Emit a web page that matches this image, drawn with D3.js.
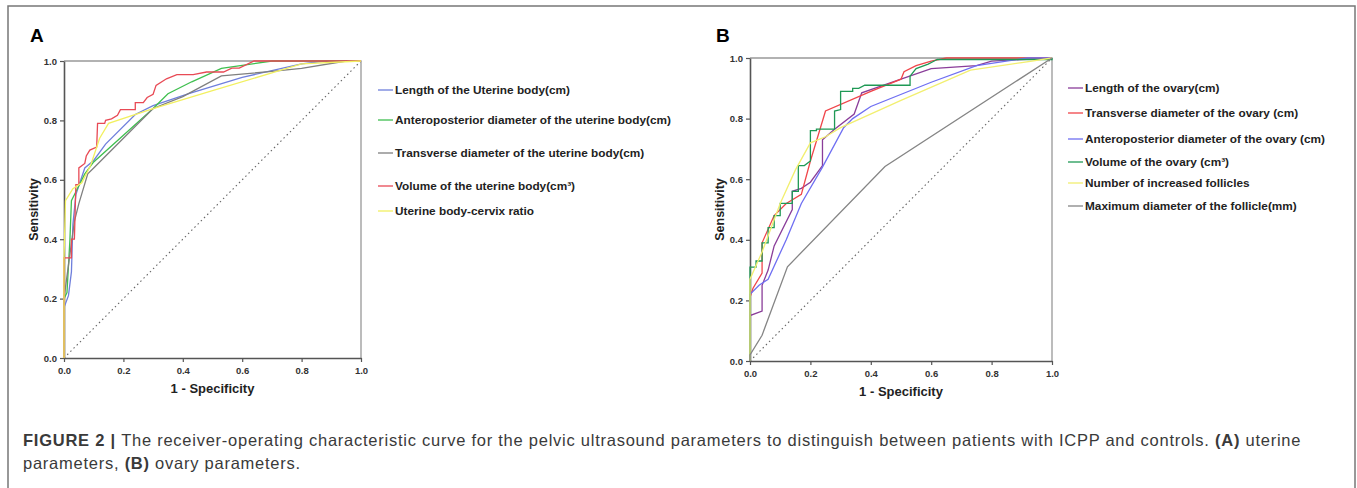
<!DOCTYPE html>
<html>
<head>
<meta charset="utf-8">
<script src="https://cdn.jsdelivr.net/npm/d3@7"></script>
<style>
  body { margin: 0; background: #fff; }
  svg { display: block; }
</style>
</head>
<body>
<div id="fig"></div>
<script>
// ROC curve points [1 - specificity, sensitivity]
const tickValues = [0, 0.2, 0.4, 0.6, 0.8, 1.0]

// panel A: uterine parameters
const uterLength = [[0,0],[0,0.17],[0.015,0.21],[0.025,0.29],[0.03,0.45],[0.04,0.55],[0.07,0.64],[0.1,0.665],[0.14,0.72],[0.24,0.82],[0.3,0.85],[0.42,0.89],[0.6,0.945],[0.8,0.99],[0.88,1.0],[1,1]]
const uterAP = [[0,0],[0,0.2],[0.01,0.22],[0.02,0.4],[0.025,0.53],[0.04,0.56],[0.07,0.62],[0.1,0.66],[0.2,0.75],[0.3,0.84],[0.35,0.89],[0.43,0.93],[0.53,0.975],[0.6,0.985],[0.7,1.0],[1,1]]
const uterTrans = [[0,0],[0,0.2],[0.02,0.35],[0.035,0.46],[0.05,0.52],[0.08,0.62],[0.1,0.64],[0.2,0.74],[0.3,0.84],[0.4,0.88],[0.53,0.95],[0.7,0.965],[0.8,0.975],[0.95,1.0],[1,1]]
const uterVolume = [[0,0],[0,0.337],[0.025,0.337],[0.025,0.40],[0.035,0.40],[0.04,0.584],[0.05,0.584],[0.05,0.64],[0.07,0.655],[0.075,0.68],[0.087,0.70],[0.11,0.71],[0.113,0.79],[0.137,0.79],[0.14,0.80],[0.16,0.805],[0.18,0.817],[0.19,0.836],[0.24,0.836],[0.24,0.86],[0.267,0.86],[0.28,0.877],[0.3,0.888],[0.31,0.918],[0.345,0.94],[0.38,0.954],[0.435,0.954],[0.48,0.963],[0.537,0.963],[0.565,0.976],[0.59,0.976],[0.64,1.0],[1,1]]
const uterRatio = [[0,0],[0,0.33],[0.005,0.53],[0.03,0.57],[0.06,0.59],[0.09,0.65],[0.12,0.74],[0.15,0.79],[0.3,0.84],[0.5,0.9],[0.7,0.96],[0.8,0.99],[1,1]]

// panel B: ovary parameters
const ovLength = [[0,0],[0,0.15],[0.04,0.165],[0.04,0.25],[0.06,0.3],[0.08,0.38],[0.14,0.5],[0.14,0.56],[0.17,0.57],[0.2,0.59],[0.24,0.645],[0.24,0.73],[0.28,0.765],[0.345,0.815],[0.37,0.885],[0.5,0.93],[0.6,0.965],[0.75,0.975],[0.8,0.99],[1,1]]
const ovTrans = [[0,0],[0,0.21],[0.01,0.24],[0.04,0.29],[0.04,0.39],[0.08,0.48],[0.12,0.52],[0.17,0.55],[0.2,0.66],[0.25,0.825],[0.4,0.89],[0.5,0.93],[0.51,0.955],[0.55,0.975],[0.6,0.99],[0.65,1.0],[1,1]]
const ovAP = [[0,0],[0,0.22],[0.03,0.25],[0.06,0.27],[0.12,0.4],[0.17,0.52],[0.24,0.64],[0.31,0.77],[0.34,0.8],[0.4,0.84],[0.6,0.92],[0.75,0.975],[0.92,1.0],[1,1]]
const ovVolume = [[0,0],[0,0.31],[0.02,0.31],[0.02,0.33],[0.04,0.33],[0.04,0.39],[0.06,0.39],[0.06,0.44],[0.08,0.44],[0.08,0.48],[0.1,0.48],[0.1,0.52],[0.14,0.52],[0.14,0.56],[0.16,0.56],[0.16,0.645],[0.18,0.645],[0.2,0.66],[0.2,0.76],[0.22,0.76],[0.22,0.765],[0.28,0.765],[0.28,0.825],[0.3,0.83],[0.3,0.89],[0.34,0.89],[0.34,0.9],[0.36,0.9],[0.38,0.91],[0.53,0.91],[0.53,0.94],[0.55,0.965],[0.59,0.98],[0.61,0.99],[0.62,0.995],[1,0.995],[1,1]]
const ovFollicles = [[0,0],[0,0.27],[0.04,0.36],[0.1,0.52],[0.15,0.63],[0.2,0.72],[0.25,0.74],[0.3,0.77],[0.5,0.86],[0.73,0.96],[0.9,0.985],[1,1]]
const ovMaxDiam = [[0,0],[0,0.02],[0.04,0.085],[0.124,0.311],[0.447,0.642],[1,1]]

const diagonal = [[0,0],[1,1]]

const namesA = ['Length of the Uterine body(cm)', 'Anteroposterior diameter of the uterine body(cm)', 'Transverse diameter of the uterine body(cm)', 'Volume of the uterine body(cm³)', 'Uterine body-cervix ratio']
const namesB = ['Length of the ovary(cm)', 'Transverse diameter of the ovary (cm)', 'Anteroposterior diameter of the ovary (cm)', 'Volume of the ovary (cm³)', 'Number of increased follicles', 'Maximum diameter of the follicle(mm)']

const colorsA = ['#6f7fdc', '#3fbf4f', '#7f7f7f', '#e84a55', '#f2f060']
const colorsB = ['#8a3d99', '#f0454a', '#6f6ff2', '#1f9955', '#f2ef70', '#858585']

const W = 1357, H = 488
const svg = d3.select('#fig').append('svg').attr('width', W).attr('height', H)

// figure frame
svg.append('rect')
  .attr('x', 8).attr('y', 6).attr('width', 1347).attr('height', 490)
  .attr('fill', 'none').attr('stroke', '#777').attr('stroke-width', 1.5)

function drawPanel(cfg) {
  const xScale = d3.scaleLinear().domain([0, 1]).range([cfg.left, cfg.right])
  const yScale = d3.scaleLinear().domain([0, 1]).range([cfg.bottom, cfg.top])

  svg.append('text')
    .attr('x', cfg.left - 34).attr('y', 42)
    .attr('font-family', 'Liberation Sans, Arial, sans-serif')
    .attr('font-weight', 'bold').attr('font-size', 19)
    .text(cfg.letter)

  // top and right frame
  svg.append('path')
    .attr('d', 'M' + cfg.left + ',' + cfg.top + 'H' + cfg.right + 'V' + cfg.bottom)
    .attr('fill', 'none').attr('stroke', '#999').attr('stroke-width', 1.3)

  const xAxis = svg.append('g')
    .attr('transform', 'translate(0,' + cfg.bottom + ')')
    .call(d3.axisBottom(xScale).tickValues(tickValues).tickFormat(d3.format('.1f')).tickSize(4).tickSizeOuter(0))
  const yAxis = svg.append('g')
    .attr('transform', 'translate(' + cfg.left + ',0)')
    .call(d3.axisLeft(yScale).tickValues(tickValues).tickFormat(d3.format('.1f')).tickSize(4).tickSizeOuter(0))

  ;[xAxis, yAxis].forEach(function(ax) {
    ax.select('.domain').attr('stroke', '#555').attr('stroke-width', 1.6)
    ax.selectAll('.tick line').attr('stroke', '#555').attr('stroke-width', 1.2)
    ax.selectAll('.tick text')
      .attr('font-family', 'Liberation Sans, Arial, sans-serif')
      .attr('font-weight', 'bold').attr('font-size', 9.5).attr('fill', '#333')
  })
  xAxis.selectAll('.tick text').attr('dy', '0.9em')

  svg.append('text')
    .attr('x', (cfg.left + cfg.right) / 2).attr('y', cfg.bottom + 35)
    .attr('text-anchor', 'middle')
    .attr('font-family', 'Liberation Sans, Arial, sans-serif')
    .attr('font-weight', 'bold').attr('font-size', 13).attr('fill', '#222')
    .text('1 - Specificity')

  svg.append('text')
    .attr('transform', 'translate(' + (cfg.left - 26) + ',' + ((cfg.top + cfg.bottom) / 2) + ') rotate(-90)')
    .attr('text-anchor', 'middle')
    .attr('font-family', 'Liberation Sans, Arial, sans-serif')
    .attr('font-weight', 'bold').attr('font-size', 12.5).attr('fill', '#222')
    .text('Sensitivity')

  const line = d3.line()
    .x(function(d) { return xScale(d[0]) })
    .y(function(d) { return yScale(d[1]) })

  svg.append('path')
    .attr('d', line(diagonal))
    .attr('fill', 'none').attr('stroke', '#666').attr('stroke-width', 1.1)
    .attr('stroke-dasharray', '1.5,3')

  svg.append('g')
    .selectAll('path')
    .data(cfg.series)
    .enter()
    .append('path')
    .attr('d', function(d) { return line(d) })
    .attr('fill', 'none')
    .attr('stroke', function(d, i) { return cfg.colors[i] })
    .attr('stroke-width', 1.3)

  // legend
  const leg = svg.append('g')
  cfg.names.forEach(function(name, i) {
    const y = cfg.legendY[i]
    leg.append('line')
      .attr('x1', cfg.legendX).attr('x2', cfg.legendX + 15)
      .attr('y1', y).attr('y2', y)
      .attr('stroke', cfg.colors[i]).attr('stroke-width', 1.3)
    leg.append('text')
      .attr('x', cfg.legendX + 17).attr('y', y + 4)
      .attr('font-family', 'Liberation Sans, Arial, sans-serif')
      .attr('font-weight', 'bold').attr('font-size', 11.8).attr('fill', '#222')
      .text(name)
  })
}

drawPanel({
  letter: 'A', left: 64, right: 361, top: 61, bottom: 358,
  series: [uterLength, uterAP, uterTrans, uterVolume, uterRatio],
  colors: colorsA, names: namesA,
  legendX: 378, legendY: [90, 120, 153, 186, 211]
})

drawPanel({
  letter: 'B', left: 750, right: 1052, top: 58, bottom: 361,
  series: [ovLength, ovTrans, ovAP, ovVolume, ovFollicles, ovMaxDiam],
  colors: colorsB, names: namesB,
  legendX: 1068, legendY: [88, 113, 139, 162, 183, 206]
})

// caption
const cap = svg.append('g')
  .attr('font-family', 'Liberation Sans, Arial, sans-serif')
  .attr('font-size', 16.5).attr('letter-spacing', 0.75).attr('fill', '#3a3a3a')
const line1 = cap.append('text').attr('x', 23).attr('y', 446)
line1.append('tspan').attr('font-weight', 'bold').text('FIGURE 2 | ')
line1.append('tspan').text('The receiver-operating characteristic curve for the pelvic ultrasound parameters to distinguish between patients with ICPP and controls. ')
line1.append('tspan').attr('font-weight', 'bold').text('(A)')
line1.append('tspan').text(' uterine')
const line2 = cap.append('text').attr('x', 23).attr('y', 469)
line2.append('tspan').text('parameters, ')
line2.append('tspan').attr('font-weight', 'bold').text('(B)')
line2.append('tspan').text(' ovary parameters.')
</script>
</body>
</html>
